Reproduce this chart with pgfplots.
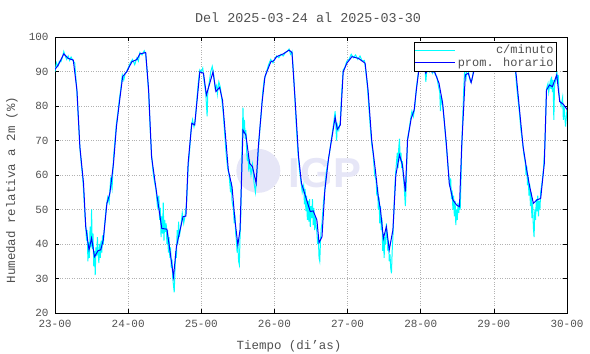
\documentclass[border=0pt]{standalone}
\usepackage{fontspec}
\setmainfont{Liberation Mono}
\newfontfamily\wmfont{Liberation Sans}
\usepackage{pgfplots}
\pgfplotsset{compat=1.18}
\definecolor{txt}{RGB}{80,80,80}
\definecolor{wm}{RGB}{230,230,247}
\definecolor{cyanline}{RGB}{0,255,255}
\definecolor{blueline}{RGB}{0,0,255}
\begin{document}
\begin{tikzpicture}
\path[use as bounding box] (-55bp,-41bp) rectangle (535bp,313bp);
\begin{axis}[
  at={(0,0)}, anchor=south west,
  scale only axis, width=512bp, height=276bp,
  xmin=0, xmax=7, ymin=20, ymax=100,
  xtick={0,1,2,3,4,5,6,7},
  xticklabels={23-00,24-00,25-00,26-00,27-00,28-00,29-00,30-00},
  ytick={20,30,...,100},
  /pgf/number format/assume math mode=true,
  ticklabel style={font=\fontsize{11}{13}\selectfont, text=txt},
  xticklabel style={yshift=-4bp},
  yticklabel style={xshift=-3bp},
  tick align=inside, major tick length=4bp,
  tick style={black, line width=0.6pt},
  axis line style={black, line width=1pt},
  grid=major, major grid style={gray!60, dotted, line width=0.5pt},
  legend style={at={(0.980,0.982)}, anchor=north east, draw=black, line width=0.6pt,
    font=\fontsize{12}{12}\selectfont, text=txt, inner sep=1pt, row sep=-1.5pt},
  legend cell align=right,
  legend image code/.code={\draw[#1] (0bp,0bp) -- (40bp,0bp);},
  clip=true,
]
\fill[wm] (axis cs:2.78,61.2) circle[radius=22bp];
\node[text=wm, font=\wmfont\bfseries\fontsize{42}{42}\selectfont] at (axis cs:3.69,60.6) {IGP};
\addplot[cyanline, line width=1pt] coordinates {
(0.00,90.0)(0.02,92.5)(0.04,91.5)(0.06,93.0)(0.08,92.8)(0.10,94.0)(0.12,95.8)(0.14,94.5)(0.16,93.5)(0.18,94.5)(0.20,93.2)(0.22,94.2)(0.25,93.0)(0.27,92.5)(0.30,84.0)(0.32,76.0)(0.34,68.0)(0.36,63.0)(0.38,59.0)(0.40,52.0)(0.41,48.0)(0.42,45.5)(0.43,41.0)(0.44,44.0)(0.45,35.0)(0.46,40.5)(0.47,36.0)(0.48,45.0)(0.49,39.0)(0.50,50.0)(0.51,38.5)(0.52,43.0)(0.53,33.5)(0.54,38.0)(0.55,31.0)(0.56,39.0)(0.57,36.5)(0.58,42.0)(0.59,37.0)(0.60,34.5)(0.61,40.0)(0.62,36.0)(0.63,41.0)(0.64,37.5)(0.65,42.5)(0.66,40.0)(0.68,46.0)(0.70,50.5)(0.72,53.5)(0.74,52.0)(0.76,58.5)(0.78,56.0)(0.80,65.0)(0.82,70.0)(0.84,75.0)(0.86,78.0)(0.88,82.0)(0.90,85.0)(0.92,89.0)(0.94,87.5)(0.96,89.5)(0.98,90.0)
(1.00,91.0)(1.03,92.5)(1.06,93.5)(1.09,92.0)(1.12,94.0)(1.14,93.0)(1.16,95.5)(1.19,94.8)(1.22,96.0)(1.24,95.0)(1.26,90.0)(1.28,84.0)(1.30,74.0)(1.32,66.0)(1.34,61.0)(1.36,58.0)(1.38,56.0)(1.40,51.0)(1.42,54.0)(1.43,47.0)(1.44,50.5)(1.45,42.0)(1.46,48.0)(1.47,43.0)(1.48,52.0)(1.49,41.0)(1.50,47.0)(1.51,43.5)(1.52,46.0)(1.53,40.0)(1.54,44.0)(1.55,37.5)(1.56,42.0)(1.57,36.0)(1.58,39.0)(1.59,33.0)(1.60,35.5)(1.61,30.0)(1.62,28.0)(1.63,26.0)(1.64,32.0)(1.65,38.0)(1.66,36.0)(1.67,44.0)(1.68,40.0)(1.69,46.5)(1.70,42.0)(1.72,45.0)(1.74,49.0)(1.76,46.0)(1.78,48.5)(1.80,52.0)(1.82,62.0)(1.84,67.0)(1.86,73.0)(1.88,76.0)(1.90,74.0)(1.92,76.5)(1.94,82.0)(1.96,87.0)(1.98,90.5)
(2.00,90.0)(2.02,91.0)(2.04,87.0)(2.06,84.0)(2.08,77.0)(2.09,84.5)(2.11,87.0)(2.13,90.0)(2.15,91.5)(2.17,89.0)(2.19,85.0)(2.21,86.0)(2.22,83.5)(2.24,87.0)(2.26,85.5)(2.28,82.0)(2.30,78.0)(2.32,72.0)(2.34,66.0)(2.36,62.0)(2.38,60.0)(2.40,55.0)(2.41,58.0)(2.42,52.5)(2.44,50.0)(2.45,46.0)(2.46,48.5)(2.47,43.0)(2.48,41.0)(2.49,37.5)(2.50,40.0)(2.51,35.0)(2.52,34.0)(2.53,42.0)(2.54,48.0)(2.55,60.0)(2.56,70.0)(2.57,79.5)(2.58,72.0)(2.59,76.0)(2.60,70.5)(2.61,73.0)(2.62,67.0)(2.63,64.0)(2.64,66.0)(2.65,61.0)(2.66,64.5)(2.68,60.0)(2.70,63.0)(2.72,58.0)(2.74,55.0)(2.75,57.5)(2.76,60.0)(2.78,67.0)(2.80,73.0)(2.82,78.0)(2.84,84.0)(2.86,87.5)(2.88,89.0)(2.90,90.5)(2.92,92.0)(2.95,93.5)(2.98,92.5)
(3.00,93.5)(3.03,94.5)(3.06,94.0)(3.09,95.0)(3.12,94.5)(3.15,95.5)(3.18,96.0)(3.20,96.5)(3.22,95.0)(3.24,95.8)(3.26,90.0)(3.28,82.0)(3.30,74.0)(3.32,67.0)(3.34,62.0)(3.36,58.5)(3.38,55.0)(3.40,57.0)(3.41,51.5)(3.42,56.0)(3.43,49.5)(3.44,54.0)(3.45,47.0)(3.46,52.5)(3.47,46.5)(3.48,53.0)(3.49,45.0)(3.50,51.0)(3.51,47.5)(3.52,53.0)(3.53,45.5)(3.54,50.5)(3.55,44.0)(3.56,48.0)(3.57,45.0)(3.58,43.5)(3.59,40.0)(3.60,42.0)(3.61,36.0)(3.62,35.0)(3.63,41.0)(3.64,44.5)(3.65,46.0)(3.67,52.0)(3.69,56.0)(3.71,61.0)(3.73,63.5)(3.75,66.0)(3.77,69.0)(3.79,72.0)(3.81,75.0)(3.83,78.5)(3.84,74.0)(3.85,70.0)(3.86,74.5)(3.88,73.0)(3.90,75.5)(3.92,84.0)(3.94,90.5)(3.96,91.0)(3.99,93.0)
(4.02,93.5)(4.05,95.0)(4.08,94.0)(4.11,94.8)(4.14,93.5)(4.17,94.5)(4.20,93.0)(4.23,93.2)(4.25,90.0)(4.27,86.0)(4.29,80.0)(4.31,74.0)(4.33,69.0)(4.35,66.0)(4.37,60.0)(4.39,58.5)(4.40,54.0)(4.41,56.5)(4.42,50.0)(4.43,53.5)(4.44,46.0)(4.45,51.0)(4.46,44.0)(4.47,47.5)(4.48,38.0)(4.49,43.0)(4.50,36.0)(4.51,42.0)(4.52,40.0)(4.53,46.0)(4.54,43.0)(4.55,38.0)(4.56,41.0)(4.57,35.0)(4.58,37.0)(4.59,33.0)(4.60,31.5)(4.61,38.0)(4.62,42.0)(4.63,48.0)(4.64,53.0)(4.65,58.0)(4.66,61.5)(4.67,64.0)(4.68,66.5)(4.69,62.0)(4.70,68.0)(4.71,70.5)(4.72,64.0)(4.73,66.5)(4.74,62.0)(4.75,64.0)(4.76,60.0)(4.77,58.0)(4.78,54.5)(4.79,51.0)(4.80,56.0)(4.81,64.0)(4.82,70.5)(4.84,73.0)(4.86,76.0)(4.88,78.5)(4.90,77.0)(4.92,80.0)(4.94,85.0)(4.96,88.5)(4.98,91.5)
(5.00,92.5)(5.02,91.0)(5.04,93.0)(5.06,90.5)(5.07,87.0)(5.08,89.5)(5.10,91.5)(5.12,90.0)(5.14,91.0)(5.16,89.5)(5.18,90.5)(5.20,89.0)(5.22,88.5)(5.24,86.0)(5.26,84.0)(5.27,78.5)(5.28,83.0)(5.30,80.0)(5.32,76.0)(5.34,71.0)(5.36,66.0)(5.38,61.0)(5.40,56.5)(5.41,59.0)(5.42,53.0)(5.43,55.5)(5.44,50.0)(5.45,54.0)(5.46,48.0)(5.47,52.5)(5.48,45.5)(5.49,50.0)(5.50,47.0)(5.51,52.0)(5.52,49.0)(5.53,51.5)(5.54,50.0)(5.55,58.0)(5.56,67.0)(5.57,74.0)(5.58,80.0)(5.59,86.0)(5.60,90.0)(5.62,88.0)(5.64,92.0)(5.66,89.0)(5.68,87.0)(5.70,87.5)(5.72,90.0)(5.74,91.5)(5.76,93.0)(5.78,94.5)(5.80,95.5)(5.83,96.5)(5.86,96.0)(5.89,97.0)(5.92,96.5)(5.95,97.0)(5.98,96.5)
(6.01,96.8)(6.04,95.5)(6.07,96.5)(6.10,97.0)(6.13,96.8)(6.15,98.0)(6.18,97.0)(6.21,96.5)(6.24,96.0)(6.27,95.0)(6.29,92.0)(6.31,86.0)(6.33,82.0)(6.35,78.0)(6.37,73.0)(6.39,70.0)(6.41,66.0)(6.43,63.5)(6.44,60.0)(6.45,62.5)(6.46,57.0)(6.47,59.5)(6.48,54.0)(6.49,57.5)(6.50,51.0)(6.51,55.0)(6.52,47.5)(6.53,52.0)(6.54,45.0)(6.55,42.0)(6.56,50.0)(6.57,47.0)(6.58,53.0)(6.59,49.5)(6.60,54.0)(6.61,48.0)(6.62,52.5)(6.63,50.0)(6.64,55.0)(6.66,58.0)(6.68,62.0)(6.70,70.0)(6.71,78.0)(6.72,85.0)(6.74,86.5)(6.75,84.0)(6.77,87.0)(6.78,85.0)(6.79,88.5)(6.80,84.0)(6.81,87.5)(6.82,76.0)(6.83,86.0)(6.85,88.0)(6.86,90.0)(6.87,86.5)(6.88,89.0)(6.89,84.0)(6.90,82.0)(6.92,80.0)(6.94,82.5)(6.95,76.0)(6.96,80.0)(6.98,74.0)(7.00,79.0)
};
\addlegendentry{c/minuto}
\addplot[blueline, line width=1pt] coordinates {
(0.00,90.6)(0.045,91.9)(0.12,95.1)(0.18,93.8)(0.25,93.3)(0.30,84.6)(0.34,68.2)(0.39,57.6)(0.42,45.0)(0.465,38.3)(0.50,41.7)(0.54,36.3)(0.59,38.1)(0.625,38.3)(0.66,41.2)(0.71,51.8)(0.75,54.7)(0.80,63.4)(0.84,74.0)(0.89,82.7)(0.925,88.5)(0.98,89.9)
(1.05,92.8)(1.12,93.5)(1.16,95.1)(1.24,95.5)(1.28,84.6)(1.32,65.3)(1.39,54.7)(1.46,44.5)(1.53,44.3)(1.57,38.3)(1.62,30.5)(1.66,39.2)(1.71,44.1)(1.75,47.9)(1.79,48.1)(1.82,63.4)(1.87,75.0)(1.91,74.5)(1.98,89.9)
(2.03,89.5)(2.07,83.2)(2.16,89.9)(2.20,84.2)(2.25,85.4)(2.29,81.7)(2.37,61.4)(2.42,56.6)(2.46,47.0)(2.50,39.7)(2.53,44.1)(2.57,73.0)(2.61,71.6)(2.66,63.4)(2.70,62.4)(2.75,57.6)(2.78,68.2)(2.83,80.8)(2.87,88.5)(2.95,92.8)(2.99,93.1)
(3.03,94.3)(3.12,95.1)(3.20,96.2)(3.24,95.5)(3.28,82.7)(3.33,65.3)(3.37,57.6)(3.44,52.8)(3.49,49.4)(3.53,49.6)(3.58,47.0)(3.61,40.4)(3.65,42.1)(3.69,55.7)(3.74,64.8)(3.78,70.1)(3.83,76.7)(3.86,73.2)(3.90,74.5)(3.94,89.9)(3.99,92.4)
(4.06,94.3)(4.15,93.8)(4.24,92.4)(4.28,84.6)(4.33,70.1)(4.38,61.4)(4.42,53.7)(4.45,49.9)(4.49,41.6)(4.53,45.0)(4.57,38.3)(4.62,44.1)(4.66,60.0)(4.71,65.8)(4.75,62.9)(4.79,55.2)(4.82,70.1)(4.87,76.4)(4.91,78.8)(4.94,84.6)(4.98,91.4)
(5.03,91.9)(5.07,89.5)(5.10,90.9)(5.15,89.9)(5.19,89.9)(5.25,86.6)(5.30,80.8)(5.35,69.2)(5.39,57.6)(5.44,52.8)(5.49,51.3)(5.53,50.8)(5.56,68.2)(5.61,89.0)(5.65,89.5)(5.69,86.8)(5.74,91.4)(5.79,94.8)(5.83,96.2)(5.90,96.7)(5.98,96.7)
(6.06,96.0)(6.15,97.4)(6.21,96.4)(6.27,95.3)(6.31,88.0)(6.36,76.9)(6.40,68.2)(6.45,61.4)(6.49,56.6)(6.54,51.8)(6.59,52.8)(6.64,53.2)(6.69,63.4)(6.72,84.6)(6.76,86.1)(6.80,85.6)(6.86,89.0)(6.90,81.3)(6.95,80.5)(7.00,79.0)
};
\addlegendentry{prom. horario}
\end{axis}
\node[text=txt, font=\fontsize{13.5}{15}\selectfont] at (253bp,295bp) {Del 2025-03-24 al 2025-03-30};
\node[text=txt, font=\fontsize{12.5}{14}\selectfont] at (234bp,-33bp) {Tiempo (di'as)};
\node[text=txt, font=\fontsize{12.5}{14}\selectfont, rotate=90] at (-43bp,123bp) {Humedad relativa a 2m (\%)};
\end{tikzpicture}
\end{document}
